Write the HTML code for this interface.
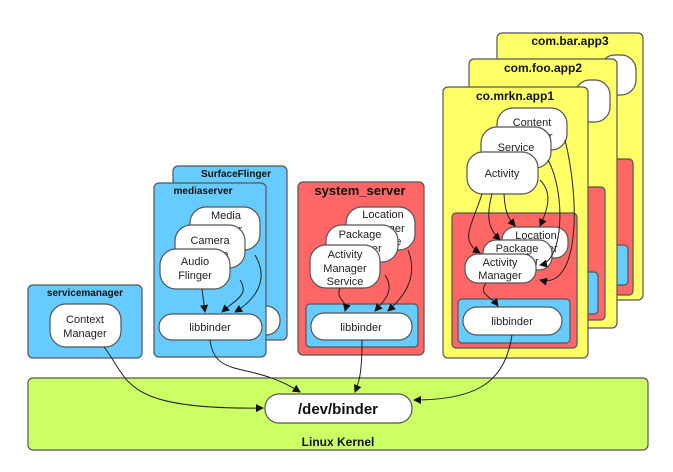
<!DOCTYPE html>
<html><head><style>
html,body{margin:0;padding:0;background:#fff;}
svg{display:block;font-family:"Liberation Sans",sans-serif;}
</style></head><body>
<svg width="673" height="472" viewBox="0 0 673 472" xmlns="http://www.w3.org/2000/svg">
<defs>
<marker id="a" markerWidth="8" markerHeight="8" refX="7" refY="4" orient="auto" markerUnits="userSpaceOnUse">
<path d="M0,0 L8,4 L0,8 z" fill="#111"/></marker>
</defs>
<g stroke="#555" stroke-width="1.2">
<rect x="28" y="378" width="620" height="72" rx="5" fill="#ccff66"/>
<rect x="28" y="285" width="114" height="73" rx="5" fill="#66ccff"/>
<rect x="50" y="304" width="71" height="43" rx="16" fill="#fff"/>
<rect x="173" y="166" width="114" height="174" rx="5" fill="#66ccff"/>
<rect x="240" y="306" width="40" height="29" rx="14" fill="#fff"/>
<rect x="154" y="183" width="112" height="174" rx="5" fill="#66ccff"/>
</g>
<g font-size="11" fill="#222" text-anchor="middle">
<rect x="190" y="207" width="70" height="43" rx="16" fill="#fff" stroke="#555" stroke-width="1.2"/>
<text x="226" y="219">Media</text><text x="226" y="233">Server</text>
<rect x="175" y="225" width="70" height="43" rx="16" fill="#fff" stroke="#555" stroke-width="1.2"/>
<text x="210" y="244">Camera</text><text x="210" y="258">Service</text>
<rect x="160" y="249" width="70" height="40" rx="16" fill="#fff" stroke="#555" stroke-width="1.2"/>
<text x="195" y="265">Audio</text><text x="195" y="279">Flinger</text>
<rect x="159" y="314" width="103" height="26" rx="13" fill="#fff" stroke="#555" stroke-width="1.2"/>
<text x="210" y="331">libbinder</text>
<text x="85" y="323">Context</text><text x="85" y="337">Manager</text>

<rect x="298" y="182" width="126" height="173" rx="5" fill="#ff6666" stroke="#555" stroke-width="1.2"/>
<rect x="346" y="207" width="69" height="43" rx="16" fill="#fff" stroke="#555" stroke-width="1.2"/>
<text x="383" y="218">Location</text><text x="383" y="232">Manager</text><text x="383" y="245">Service</text>
<rect x="326" y="225" width="72" height="37" rx="16" fill="#fff" stroke="#555" stroke-width="1.2"/>
<text x="360" y="238">Package</text><text x="360" y="252">Manager</text>
<rect x="310" y="245" width="70" height="43" rx="16" fill="#fff" stroke="#555" stroke-width="1.2"/>
<text x="345" y="258">Activity</text><text x="345" y="272">Manager</text><text x="345" y="285">Service</text>
<rect x="306" y="304" width="112" height="43" rx="4" fill="#66ccff" stroke="#555" stroke-width="1.2"/>
<rect x="311" y="313" width="101" height="27" rx="13" fill="#fff" stroke="#555" stroke-width="1.2"/>
<text x="361" y="331">libbinder</text>

<g stroke="#555" stroke-width="1.2">
<rect x="497" y="33" width="146" height="267" rx="5" fill="#ffff66"/>
<rect x="600" y="55" width="36" height="40" rx="15" fill="#fff"/>
<rect x="590" y="159" width="43" height="136" rx="4" fill="#ff6666"/>
<rect x="600" y="245" width="28" height="40" rx="4" fill="#66ccff"/>
<rect x="469" y="59" width="148" height="269" rx="5" fill="#ffff66"/>
<rect x="575" y="80" width="35" height="42" rx="15" fill="#fff"/>
<rect x="560" y="187" width="45" height="133" rx="4" fill="#ff6666"/>
<rect x="570" y="272" width="28" height="42" rx="4" fill="#66ccff"/>
<rect x="443" y="87" width="145" height="271" rx="5" fill="#ffff66"/>
</g>
<rect x="497" y="108" width="70" height="42" rx="16" fill="#fff" stroke="#555" stroke-width="1.2"/>
<text x="532" y="126">Content</text><text x="532" y="140">Provider</text>
<rect x="481" y="127" width="70" height="41" rx="16" fill="#fff" stroke="#555" stroke-width="1.2"/>
<text x="516" y="151">Service</text>
<rect x="467" y="152" width="71" height="42" rx="16" fill="#fff" stroke="#555" stroke-width="1.2"/>
<text x="502" y="177">Activity</text>
<rect x="452" y="213" width="125" height="135" rx="4" fill="#ff6666" stroke="#555" stroke-width="1.2"/>
<rect x="502" y="227" width="66" height="31" rx="13" fill="#fff" stroke="#555" stroke-width="1.2"/>
<text x="536" y="239">Location</text><text x="536" y="252">Manager</text>
<rect x="483" y="240" width="69" height="30" rx="13" fill="#fff" stroke="#555" stroke-width="1.2"/>
<text x="517" y="252">Package</text><text x="517" y="265">Manager</text>
<rect x="465" y="254" width="71" height="29" rx="13" fill="#fff" stroke="#555" stroke-width="1.2"/>
<text x="500" y="266">Activity</text><text x="500" y="279">Manager</text>
<rect x="458" y="299" width="112" height="44" rx="4" fill="#66ccff" stroke="#555" stroke-width="1.2"/>
<rect x="463" y="307" width="99" height="28" rx="14" fill="#fff" stroke="#555" stroke-width="1.2"/>
<text x="512" y="325">libbinder</text>
<rect x="265" y="394" width="147" height="29" rx="14" fill="#fff" stroke="#555" stroke-width="1.2"/>
</g>
<g fill="none" stroke="#222" stroke-width="1" marker-end="url(#a)">
<path d="M104,347 C130,380 120,410 263,408"/>
<path d="M210,340 C215,380 250,360 300,392"/>
<path d="M362,340 C362,370 360,380 355,392"/>
<path d="M512,335 C505,380 480,400 414,400"/>
<path d="M202,289 L205,312"/>
<path d="M240,280 C250,295 235,300 222,312"/>
<path d="M255,255 C270,280 255,300 235,312"/>
<path d="M340,288 C335,300 348,300 345,311"/>
<path d="M385,275 C395,290 385,300 375,311"/>
<path d="M408,250 C420,280 400,300 388,311"/>
<path d="M486,283 C478,295 490,295 498,306"/>
<path d="M482,194 C470,230 460,240 480,253"/>
<path d="M492,194 C485,220 490,230 500,240"/>
<path d="M504,194 C505,215 510,220 515,226"/>
<path d="M540,180 C555,195 545,215 540,226"/>
<path d="M548,160 C565,190 565,260 540,265"/>
<path d="M565,140 C580,200 580,290 540,280"/>
</g>
<g font-weight="bold" fill="#111" text-anchor="middle">
<text x="85" y="296" font-size="10">servicemanager</text>
<text x="236" y="177" font-size="10">SurfaceFlinger</text>
<text x="203" y="194" font-size="10">mediaserver</text>
<text x="360" y="195" font-size="13">system_server</text>
<text x="570" y="45" font-size="12">com.bar.app3</text>
<text x="543" y="72" font-size="12">com.foo.app2</text>
<text x="515" y="100" font-size="12">co.mrkn.app1</text>
<text x="338" y="414" font-size="15">/dev/binder</text>
<text x="338" y="446" font-size="12">Linux Kernel</text>
</g>
</svg>
</body></html>
